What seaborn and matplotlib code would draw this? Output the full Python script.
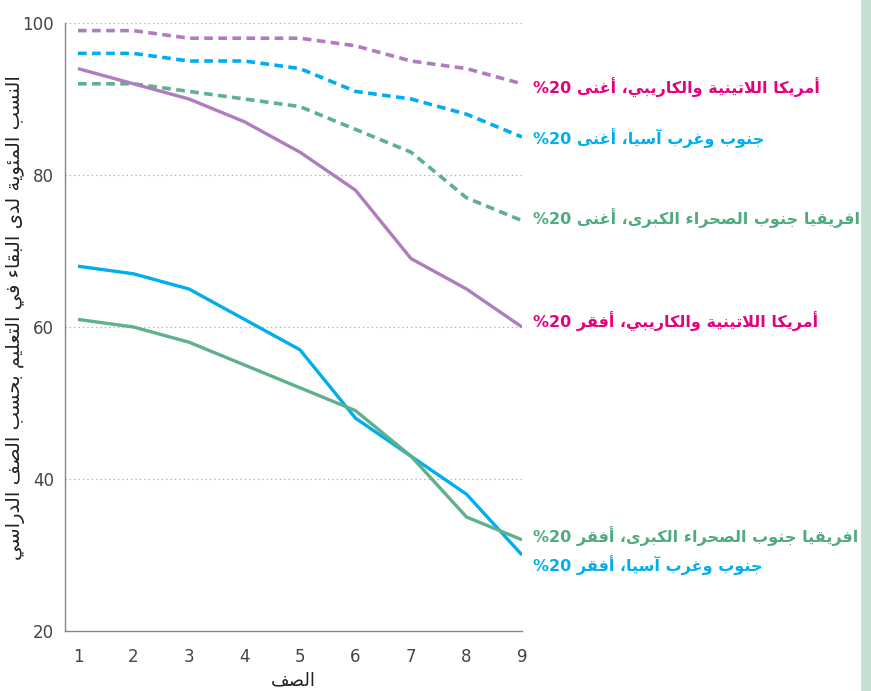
import matplotlib
matplotlib.use("Agg")
import matplotlib.pyplot as plt
import seaborn as sns
import pandas as pd
from matplotlib.patches import Rectangle

# ---------------- data ----------------
grades = [1, 2, 3, 4, 5, 6, 7, 8, 9]
latam_rich = [99, 99, 98, 98, 98, 97, 95, 94, 92]
swasia_rich = [96, 96, 95, 95, 94, 91, 90, 88, 85]
ssa_rich = [92, 92, 91, 90, 89, 86, 83, 77, 74]
latam_poor = [94, 92, 90, 87, 83, 78, 69, 65, 60]
swasia_poor = [68, 67, 65, 61, 57, 48, 43, 38, 30]
ssa_poor = [61, 60, 58, 55, 52, 49, 43, 35, 32]

label_latam_rich = "أمريكا اللاتينية والكاريبي، أغنى"
label_swasia_rich = "جنوب وغرب آسيا، أغنى"
label_ssa_rich = "افريقيا جنوب الصحراء الكبرى، أغنى"
label_latam_poor = "أمريكا اللاتينية والكاريبي، أفقر"
label_ssa_poor = "افريقيا جنوب الصحراء الكبرى، أفقر"
label_swasia_poor = "جنوب وغرب آسيا، أفقر"
pct_text = "%20"
y_title = "النسب المئوية لدى البقاء في التعليم بحسب الصف الدراسي"
x_title = "الصف"
y_ticks = [20, 40, 60, 80, 100]

# ---------------- simple Arabic shaping ----------------
FORMS = {
    0x0621: (0xFE80, None, None, None),
    0x0622: (0xFE81, 0xFE82, None, None),
    0x0623: (0xFE83, 0xFE84, None, None),
    0x0624: (0xFE85, 0xFE86, None, None),
    0x0625: (0xFE87, 0xFE88, None, None),
    0x0626: (0xFE89, 0xFE8A, 0xFE8B, 0xFE8C),
    0x0627: (0xFE8D, 0xFE8E, None, None),
    0x0628: (0xFE8F, 0xFE90, 0xFE91, 0xFE92),
    0x0629: (0xFE93, 0xFE94, None, None),
    0x062A: (0xFE95, 0xFE96, 0xFE97, 0xFE98),
    0x062B: (0xFE99, 0xFE9A, 0xFE9B, 0xFE9C),
    0x062C: (0xFE9D, 0xFE9E, 0xFE9F, 0xFEA0),
    0x062D: (0xFEA1, 0xFEA2, 0xFEA3, 0xFEA4),
    0x062E: (0xFEA5, 0xFEA6, 0xFEA7, 0xFEA8),
    0x062F: (0xFEA9, 0xFEAA, None, None),
    0x0630: (0xFEAB, 0xFEAC, None, None),
    0x0631: (0xFEAD, 0xFEAE, None, None),
    0x0632: (0xFEAF, 0xFEB0, None, None),
    0x0633: (0xFEB1, 0xFEB2, 0xFEB3, 0xFEB4),
    0x0634: (0xFEB5, 0xFEB6, 0xFEB7, 0xFEB8),
    0x0635: (0xFEB9, 0xFEBA, 0xFEBB, 0xFEBC),
    0x0636: (0xFEBD, 0xFEBE, 0xFEBF, 0xFEC0),
    0x0637: (0xFEC1, 0xFEC2, 0xFEC3, 0xFEC4),
    0x0638: (0xFEC5, 0xFEC6, 0xFEC7, 0xFEC8),
    0x0639: (0xFEC9, 0xFECA, 0xFECB, 0xFECC),
    0x063A: (0xFECD, 0xFECE, 0xFECF, 0xFED0),
    0x0641: (0xFED1, 0xFED2, 0xFED3, 0xFED4),
    0x0642: (0xFED5, 0xFED6, 0xFED7, 0xFED8),
    0x0643: (0xFED9, 0xFEDA, 0xFEDB, 0xFEDC),
    0x0644: (0xFEDD, 0xFEDE, 0xFEDF, 0xFEE0),
    0x0645: (0xFEE1, 0xFEE2, 0xFEE3, 0xFEE4),
    0x0646: (0xFEE5, 0xFEE6, 0xFEE7, 0xFEE8),
    0x0647: (0xFEE9, 0xFEEA, 0xFEEB, 0xFEEC),
    0x0648: (0xFEED, 0xFEEE, None, None),
    0x0649: (0xFEEF, 0xFEF0, None, None),
    0x064A: (0xFEF1, 0xFEF2, 0xFEF3, 0xFEF4),
}
LAM_ALEF = {0x0627: (0xFEFB, 0xFEFC), 0x0623: (0xFEF7, 0xFEF8),
            0x0622: (0xFEF5, 0xFEF6), 0x0625: (0xFEF9, 0xFEFA)}


def joins_left(cp):
    f = FORMS.get(cp)
    return f is not None and f[2] is not None


def joins_right(cp):
    f = FORMS.get(cp)
    return f is not None and f[1] is not None


def shape(text):
    cps = [ord(c) for c in text]
    units = []
    i = 0
    while i < len(cps):
        if cps[i] == 0x0644 and i + 1 < len(cps) and cps[i + 1] in LAM_ALEF:
            units.append(("LA", cps[i + 1]))
            i += 2
        else:
            units.append(("C", cps[i]))
            i += 1
    out = []
    for k, (kind, cp) in enumerate(units):
        prev = units[k - 1] if k > 0 else None
        nxt = units[k + 1] if k + 1 < len(units) else None
        prev_j = prev is not None and prev[0] == "C" and joins_left(prev[1])
        if kind == "LA":
            iso, fin = LAM_ALEF[cp]
            out.append(chr(fin if prev_j else iso))
            continue
        if cp not in FORMS:
            out.append(chr(cp))
            continue
        iso, fin, ini, med = FORMS[cp]
        next_j = nxt is not None and (nxt[0] == "LA" or joins_right(nxt[1])) and ini is not None
        if prev_j and fin is None:
            prev_j = False
        if prev_j and next_j:
            out.append(chr(med))
        elif prev_j:
            out.append(chr(fin))
        elif next_j:
            out.append(chr(ini))
        else:
            out.append(chr(iso))
    return "".join(out)[::-1]


# ---------------- figure ----------------
sns.set_style("white")
plt.rcParams["font.family"] = ["DejaVu Sans"]

fig = plt.figure(figsize=(8.71, 6.91), dpi=100)
ax = fig.add_axes([65 / 871, 1 - 631 / 691, (522 - 65) / 871, (631 - 23) / 691])

purple = "#B07CC0"
blue = "#00AEEF"
green = "#5DB18B"

series = [
    (latam_rich, purple, True),
    (swasia_rich, blue, True),
    (ssa_rich, green, True),
    (latam_poor, purple, False),
    (swasia_poor, blue, False),
    (ssa_poor, green, False),
]

for vals, col, dashed in series:
    df = pd.DataFrame({"grade": grades, "value": vals})
    sns.lineplot(data=df, x="grade", y="value", ax=ax, color=col,
                 linewidth=2.6 if dashed else 2.4,
                 dashes=False, legend=False)
    line = ax.get_lines()[-1]
    if dashed:
        line.set_dashes((2.4, 1.5))
    line.set_solid_capstyle("butt")
    line.set_dash_capstyle("butt")

ax.set_xlim(1 - 13 / 55.5, 9)
ax.set_ylim(20, 100)
ax.set_xticks(grades)
ax.set_yticks(y_ticks)
ax.set_xticklabels([str(g) for g in grades])
ax.set_yticklabels([str(t) for t in y_ticks])

for y in [40, 60, 80, 100]:
    ax.plot([ax.get_xlim()[0], 9], [y, y], color="#AAAAAA", linestyle=(0, (1, 2.5)),
            linewidth=0.9, zorder=0)

ax.grid(False)
for s in ["top", "right"]:
    ax.spines[s].set_visible(False)
for s in ["left", "bottom"]:
    ax.spines[s].set_color("#888888")
    ax.spines[s].set_linewidth(1.0)

ax.tick_params(axis="x", length=6, width=0.9, color="#888888", labelsize=12,
               labelcolor="#444444", pad=6, direction="out")
ax.tick_params(axis="y", length=0, labelsize=12, labelcolor="#444444", pad=8)
for t in ax.get_xticklabels() + ax.get_yticklabels():
    t.set_fontfamily(["Liberation Sans Narrow", "DejaVu Sans"])

ax.set_xlabel(shape(x_title), fontsize=13, color="#222222", labelpad=4)
ax.set_ylabel("")

# y title as figure text, fitted to the reference length (~480 px)
ytxt = fig.text(16 / 871, 1 - 318 / 691, shape(y_title), rotation=90, fontsize=12,
                color="#222222", ha="center", va="center")
fig.canvas.draw()
ext = ytxt.get_window_extent(renderer=fig.canvas.get_renderer())
if ext.height > 0:
    ytxt.set_fontsize(12 * 480 / ext.height)

label_specs = [
    (label_latam_rich, 91.4, "#E6007E"),
    (label_swasia_rich, 84.9, "#00AEEF"),
    (label_ssa_rich, 74.3, "#4FAA7D"),
    (label_latam_poor, 60.7, "#E6007E"),
    (label_ssa_poor, 32.5, "#4FAA7D"),
    (label_swasia_poor, 28.7, "#00AEEF"),
]
for txt, yv, col in label_specs:
    ax.text(9.2, yv, pct_text + " " + shape(txt), color=col, fontsize=11.5,
            fontweight="bold", ha="left", va="center", clip_on=False)

# light green strip on the right edge
fig.patches.append(Rectangle((861 / 871, 0), 10 / 871, 1, transform=fig.transFigure,
                             facecolor="#C6E1D4", edgecolor="none", zorder=-1))

fig.savefig("out.png", dpi=100)
